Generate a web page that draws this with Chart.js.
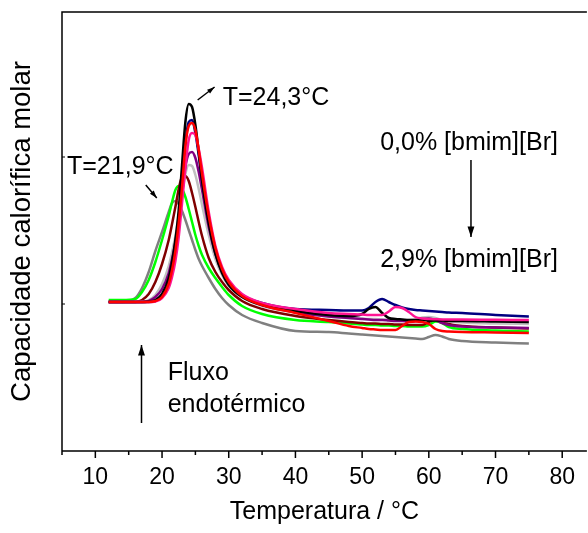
<!DOCTYPE html>
<html>
<head>
<meta charset="utf-8">
<script src="https://cdn.jsdelivr.net/npm/chart.js@4"></script>
<style>
  html, body { margin: 0; padding: 0; background: #fff; }
</style>
</head>
<body>
<canvas id="dsc" width="588" height="533"></canvas>
<script>
// Temperaturas (°C) em que as curvas foram lidas
const temps = [12, 14, 16, 17, 18, 19, 20, 21, 21.5, 22, 22.5, 23, 23.5, 24, 24.5, 25, 25.5, 26,
  27, 28, 29, 30, 32, 35, 40, 45, 48, 50, 51, 52, 53, 54, 55, 56, 57, 58, 59, 60, 61, 62, 63, 65, 70, 75];

// Capacidade calorífica molar (unidades arbitrárias), 0,0% -> 2,9% [bmim][Br]
const cpBlack = [14.9, 14.9, 14.9, 14.9, 14.95, 15.1, 15.7, 17.3, 18.9, 21.1, 24.1, 28.6, 32.9, 34.7, 34.4, 32.6, 29.9, 27.1,
  22.8, 19.7, 17.8, 16.6, 15.4, 14.6, 14.0, 13.6, 13.5, 13.7, 14.2, 14.4, 13.8, 13.3, 13.2, 13.15, 13.1, 13.1, 13.1, 13.05, 13.05, 13.05, 13.0, 13.0, 12.95, 12.9];
const cpNavy = [14.9, 14.9, 14.9, 14.9, 14.9, 15.0, 15.5, 16.9, 18.3, 20.3, 23.1, 26.8, 30.8, 32.9, 33.1, 31.8, 29.6, 27.1,
  23.0, 20.0, 18.1, 16.9, 15.6, 14.8, 14.2, 14.1, 14.05, 14.05, 14.3, 14.9, 15.2, 14.9, 14.6, 14.35, 14.2, 14.1, 14.05, 14.0, 13.95, 13.9, 13.85, 13.8, 13.6, 13.45];
const cpRed = [14.9, 14.9, 14.9, 14.9, 14.9, 15.0, 15.4, 16.7, 18.1, 20.0, 22.8, 26.4, 30.5, 32.5, 32.8, 32.1, 30.1, 27.7,
  23.5, 20.3, 18.2, 16.9, 15.5, 14.6, 13.8, 13.0, 12.5, 12.3, 12.2, 12.15, 12.1, 12.1, 12.1, 12.5, 12.9, 12.95, 12.9, 12.7, 12.2, 12.0, 11.95, 11.9, 11.85, 11.8];
const cpPink = [14.9, 14.9, 14.9, 14.9, 14.9, 14.95, 15.3, 16.3, 17.4, 19.0, 21.4, 24.8, 28.3, 31.1, 31.8, 31.6, 30.2, 28.3,
  23.9, 20.5, 18.4, 17.1, 15.7, 14.8, 14.2, 13.8, 13.7, 13.65, 13.6, 13.6, 13.6, 13.95, 14.4, 14.3, 13.9, 13.4, 13.25, 13.2, 13.18, 13.16, 13.15, 13.14, 13.12, 13.1];
const cpPurple = [14.9, 14.9, 14.9, 14.9, 15.0, 15.4, 16.2, 17.8, 19.2, 20.9, 23.2, 25.8, 28.4, 29.7, 29.9, 29.3, 27.9, 26.1,
  22.4, 19.7, 17.9, 16.7, 15.5, 14.6, 13.9, 13.45, 13.3, 13.2, 13.15, 13.1, 13.1, 13.05, 13.0, 13.0, 12.95, 13.0, 13.2, 13.25, 13.1, 12.8, 12.6, 12.45, 12.35, 12.3];
const cpSilver = [14.9, 14.9, 14.9, 14.95, 15.1, 15.6, 16.7, 18.5, 19.9, 21.5, 23.5, 25.7, 27.7, 28.6, 28.5, 27.6, 26.2, 24.6,
  21.6, 19.2, 17.6, 16.5, 15.4, 14.5, 13.9, 13.45, 13.3, 13.25, 13.2, 13.2, 13.15, 13.15, 13.1, 13.1, 13.1, 13.15, 13.35, 13.4, 13.3, 13.1, 12.95, 12.85, 12.75, 12.7];
const cpMaroon = [14.9, 14.9, 14.9, 15.1, 15.7, 16.9, 18.7, 21.1, 22.7, 24.4, 26.2, 27.4, 27.5, 27.0, 25.8, 24.4, 22.9, 21.5,
  19.3, 17.9, 16.9, 16.1, 15.0, 14.2, 13.5, 13.1, 12.9, 12.8, 12.75, 12.75, 12.7, 12.7, 12.65, 12.65, 12.6, 12.6, 12.6, 12.9, 13.15, 13.0, 12.7, 12.5, 12.35, 12.25];
const cpGreen = [15.1, 15.1, 15.2, 15.9, 17.1, 18.9, 21.1, 23.5, 24.9, 26.1, 26.5, 26.2, 25.4, 24.2, 22.9, 21.6, 20.5, 19.6,
  18.3, 17.3, 16.4, 15.6, 14.5, 13.7, 13.1, 12.9, 12.75, 12.65, 12.6, 12.6, 12.55, 12.55, 12.5, 12.5, 12.45, 12.45, 12.45, 12.6, 12.95, 12.8, 12.4, 12.2, 12.05, 11.95];
const cpGray = [14.9, 14.9, 15.3, 16.3, 17.9, 20.0, 21.9, 23.9, 24.8, 25.0, 24.7, 24.0, 23.1, 22.1, 21.1, 20.1, 19.2, 18.5,
  17.3, 16.2, 15.3, 14.6, 13.6, 12.8, 12.0, 11.9, 11.75, 11.65, 11.6, 11.55, 11.5, 11.45, 11.4, 11.35, 11.3, 11.25, 11.2, 11.4, 11.6, 11.45, 11.2, 11.0, 10.85, 10.75];

// primeira série fica por cima no desenho
const curves = [
  { data: cpRed, color: '#ff0000' },
  { data: cpPink, color: '#ff1493' },
  { data: cpBlack, color: '#000000' },
  { data: cpNavy, color: '#000080' },
  { data: cpPurple, color: '#800080' },
  { data: cpSilver, color: '#c0c0c0' },
  { data: cpMaroon, color: '#800000' },
  { data: cpGreen, color: '#00ff00' },
  { data: cpGray, color: '#808080' }
];

const xTicks = [10, 20, 30, 40, 50, 60, 70, 80];
const xMinorTicks = [5, 15, 25, 35, 45, 55, 65, 75];
const yInnerTicks = [14.7, 29.4];

// textos e setas (em coordenadas dos dados)
const notes = [
  { text: 'T=24,3°C', t: 29.1, v: 34.6 },
  { text: 'T=21,9°C', t: 5.75, v: 27.7 },
  { text: '0,0% [bmim][Br]', t: 52.7, v: 30.1 },
  { text: '2,9% [bmim][Br]', t: 52.7, v: 18.4 },
  { text: 'Fluxo', t: 20.85, v: 7.1 },
  { text: 'endotérmico', t: 20.85, v: 3.9 }
];
const arrows = [
  [25.34, 35.1, 27.88, 36.4, 8],
  [17.56, 26.6, 19.21, 25.3, 8],
  [66.32, 29.1, 66.32, 21.4, 11],
  [16.92, 2.8, 16.92, 10.6, 11]
];

const FONT = "'Liberation Sans', Arial, sans-serif";

function drawArrow(ctx, x1, y1, x2, y2, head) {
  ctx.beginPath(); ctx.moveTo(x1, y1); ctx.lineTo(x2, y2); ctx.stroke();
  const a = Math.atan2(y2 - y1, x2 - x1);
  ctx.beginPath();
  ctx.moveTo(x2, y2);
  ctx.lineTo(x2 - head * Math.cos(a - 0.32), y2 - head * Math.sin(a - 0.32));
  ctx.lineTo(x2 - head * Math.cos(a + 0.32), y2 - head * Math.sin(a + 0.32));
  ctx.closePath(); ctx.fill();
}

const framePlugin = {
  id: 'frame',
  afterDraw(chart) {
    const { ctx, chartArea: a, scales: { x, y } } = chart;
    ctx.save();
    ctx.strokeStyle = '#000'; ctx.fillStyle = '#000'; ctx.lineWidth = 1.5;
    ctx.beginPath();
    ctx.moveTo(a.left, a.bottom); ctx.lineTo(a.left, a.top); ctx.lineTo(a.right, a.top);
    ctx.moveTo(a.left, a.bottom); ctx.lineTo(a.right, a.bottom);
    ctx.stroke();
    ctx.beginPath();
    xTicks.forEach(v => { const p = x.getPixelForValue(v); ctx.moveTo(p, a.bottom); ctx.lineTo(p, a.bottom + 7); });
    xMinorTicks.forEach(v => { const p = x.getPixelForValue(v); ctx.moveTo(p, a.bottom); ctx.lineTo(p, a.bottom + 4); });
    ctx.stroke();
    ctx.lineWidth = 1;
    ctx.beginPath();
    yInnerTicks.forEach(v => { const p = y.getPixelForValue(v); ctx.moveTo(a.left, p); ctx.lineTo(a.left + 3, p); });
    ctx.stroke();

    ctx.font = '25px ' + FONT;
    ctx.textAlign = 'left'; ctx.textBaseline = 'alphabetic';
    notes.forEach(n => ctx.fillText(n.text, x.getPixelForValue(n.t), y.getPixelForValue(n.v)));
    ctx.lineWidth = 1.5;
    arrows.forEach(r => drawArrow(ctx, x.getPixelForValue(r[0]), y.getPixelForValue(r[1]),
      x.getPixelForValue(r[2]), y.getPixelForValue(r[3]), r[4]));
    ctx.restore();
  }
};

new Chart(document.getElementById('dsc'), {
  type: 'line',
  data: {
    datasets: curves.map(c => ({
      data: temps.map((t, i) => ({ x: t, y: c.data[i] })),
      borderColor: c.color,
      borderWidth: 2.5,
      pointRadius: 0,
      fill: false,
      cubicInterpolationMode: 'monotone'
    }))
  },
  options: {
    responsive: false,
    animation: false,
    devicePixelRatio: 1,
    layout: { padding: { top: 12, right: 0, left: 0, bottom: 0 } },
    plugins: { legend: { display: false }, tooltip: { enabled: false } },
    scales: {
      x: {
        type: 'linear', min: 5, max: 83.7,
        afterBuildTicks: s => { s.ticks = xTicks.map(v => ({ value: v })); },
        ticks: { font: { family: FONT, size: 23 }, color: '#000', padding: 13, maxRotation: 0, autoSkip: false },
        grid: { display: false, drawTicks: false },
        border: { display: false },
        title: { display: true, text: 'Temperatura / °C', color: '#000', font: { family: FONT, size: 25 }, padding: { top: 0, bottom: 6 } },
        afterFit: s => { s.height = 82; }
      },
      y: {
        min: 0, max: 43.9,
        ticks: { display: false },
        grid: { display: false, drawTicks: false },
        border: { display: false },
        title: { display: true, text: 'Capacidade calorífica molar', color: '#000', font: { family: FONT, size: 27.5 }, padding: { top: 6, bottom: 0 } },
        afterFit: s => { s.width = 62; }
      }
    }
  },
  plugins: [framePlugin]
});
</script>
</body>
</html>
